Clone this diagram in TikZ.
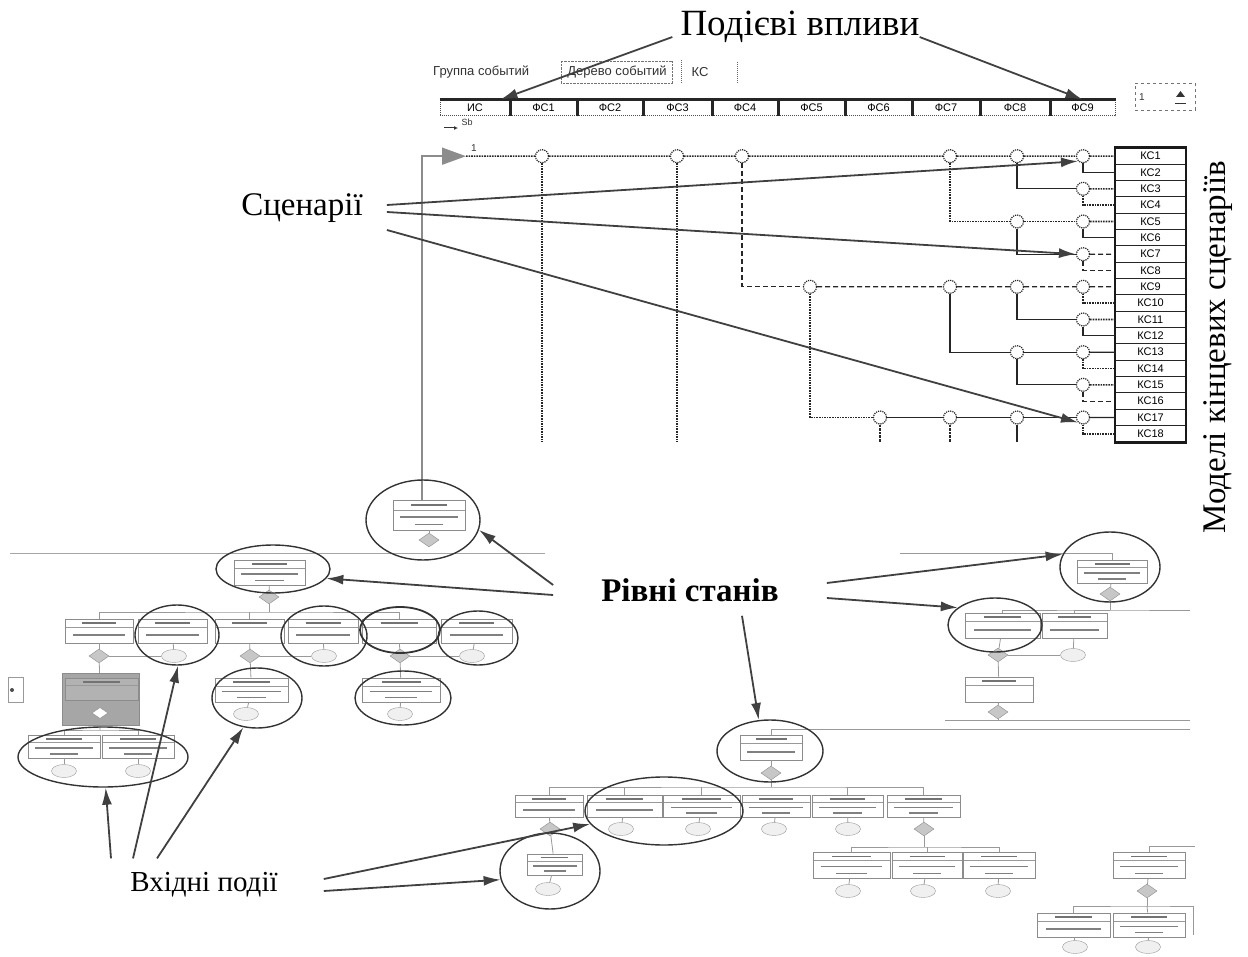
\documentclass[tikz,border=0pt]{standalone}
\usepackage{fontspec}
\setmainfont{Liberation Serif}
\newfontfamily\uifont{Liberation Sans}
\usetikzlibrary{arrows.meta,shapes.geometric,calc}

% inner look of a fault-tree box: header strip, separator, body lines
\newcommand\ftinner[1]{%
  \path (path picture bounding box.north west) coordinate (fa)
        (path picture bounding box.north east) coordinate (fb)
        (path picture bounding box.south west) coordinate (fc)
        (path picture bounding box.south east) coordinate (fd);
  \path ($(fa)!.17!(fc)$) coordinate (fh1) ($(fb)!.17!(fd)$) coordinate (fh2)
        ($(fa)!.34!(fc)$) coordinate (fs1) ($(fb)!.34!(fd)$) coordinate (fs2);
  \draw[black!40, line width=.7pt] (fs1) -- (fs2);
  \draw[black!55, line width=1.8pt] ($(fh1)!.25!(fh2)$) -- ($(fh1)!.75!(fh2)$);
  \ifcase#1\relax
  \or
    \path ($(fa)!.67!(fc)$) coordinate (ft1) ($(fb)!.67!(fd)$) coordinate (ft2);
    \draw[black!50, line width=1.8pt] ($(ft1)!.12!(ft2)$) -- ($(ft1)!.88!(ft2)$);
  \or
    \path ($(fa)!.56!(fc)$) coordinate (ft1) ($(fb)!.56!(fd)$) coordinate (ft2)
          ($(fa)!.82!(fc)$) coordinate (fu1) ($(fb)!.82!(fd)$) coordinate (fu2);
    \draw[black!50, line width=1.6pt] ($(ft1)!.1!(ft2)$) -- ($(ft1)!.9!(ft2)$);
    \draw[black!50, line width=1.6pt] ($(fu1)!.3!(fu2)$) -- ($(fu1)!.7!(fu2)$);
  \fi}

\begin{document}
\begin{tikzpicture}[x=1pt, y=-1pt,
  lbl/.style={font=\fontsize{33}{38}\selectfont, inner sep=0pt},
  ui/.style={font=\uifont\fontsize{13}{15}\selectfont, inner sep=0pt, text=black!80},
  arr/.style={draw=black!75, line width=1.8pt, -{Latex[length=17pt,width=10pt]}},
  ring/.style 2 args={ellipse, draw=black!80, line width=1.4pt, inner sep=0pt,
    minimum width=#1pt, minimum height=#2pt},
  ftbox/.style 2 args={draw=black!45, line width=.8pt, fill=white, inner sep=0pt,
    minimum width=#2pt, path picture={\ftinner{#1}}},
  gate/.style={diamond, draw=black!45, fill=black!22, minimum width=20pt,
    minimum height=14pt, inner sep=0pt},
  bev/.style={ellipse, draw=black!40, fill=black!6, minimum width=25pt,
    minimum height=13pt, inner sep=0pt},
  wire/.style={draw=black!40, line width=.8pt},
  etw/.style={draw=black!85, line width=1.6pt, densely dotted},
  etd/.style={draw=black!85, line width=1.3pt, dash pattern=on 5pt off 3pt},
  ets/.style={draw=black!85, line width=1.3pt},
  etn/.style={circle, draw=black!85, line width=1.2pt, densely dotted, fill=white,
    minimum size=13pt, inner sep=0pt},
  ksbox/.style={draw=black!85, line width=1pt, minimum width=70pt,
    minimum height=16.33pt, inner sep=0pt, font=\uifont\fontsize{11}{12}\selectfont},
  hcell/.style={draw=black!70, densely dotted, line width=1pt, minimum height=16pt,
    inner sep=0pt, font=\uifont\fontsize{11}{12}\selectfont}
]
\useasboundingbox (0,0) rectangle (1248,957);

% ---------------- event tree: tabs and header ----------------
\node[ui, anchor=west] (tgrp) at (433,72) {Группа событий};
\node[ui, draw=black!55, densely dotted, inner xsep=6pt, inner ysep=5pt] (ttree) at (617,72) {Дерево событий};
\node[ui] (tks) at (700,72) {КС};
\coordinate (tbar1a) at (681,60); \coordinate (tbar1b) at (681,84);
\coordinate (tbar2a) at (737,62); \coordinate (tbar2b) at (737,84);
\draw[black!60, densely dotted, line width=1pt] (tbar1a) -- (tbar1b);
\draw[black!60, densely dotted, line width=1pt] (tbar2a) -- (tbar2b);

\foreach \i/\a/\b/\t in {0/440/510/ИС, 1/510/577/ФС1, 2/577/643/ФС2, 3/643/712/ФС3,
    4/712/778/ФС4, 5/778/845/ФС5, 6/845/912/ФС6, 7/912/980/ФС7, 8/980/1050/ФС8, 9/1050/1115/ФС9}
  \node[hcell, minimum width={\b-\a}] (h\i) at ({(\a+\b)/2},108) {\t};
\draw[black!85, line width=2.6pt] (h0.north west) -- (h9.north east);
\foreach \i in {0,...,8}
  \draw[black!85, line width=2.4pt] (h\i.north east) -- (h\i.south east);

% spinner box
\node[draw=black!55, dashed, minimum width=60pt, minimum height=27pt, inner sep=0pt] (spin) at (1165,97) {};
\node[ui, font=\uifont\fontsize{10}{12}\selectfont] (spinv) at (1142,97) {1};
\fill[black!80] (1176,97) -- (1185,97) -- (1180.5,91) -- cycle;
\draw[black!80, line width=1pt] (1175,104) -- (1186,104);

% start marker
\coordinate (sba) at (444,128); \coordinate (sbb) at (458,128);
\draw[black!80, line width=1pt, -{Latex[length=4pt,width=4pt]}] (sba) -- (sbb);
\node[ui, font=\uifont\fontsize{9}{10}\selectfont] (sbt) at (467,122) {Sb};
\node[ui, font=\uifont\fontsize{10}{11}\selectfont] (one) at (474,148) {1};

% ---------------- event tree body ----------------
% end-state column
\foreach \r in {1,...,18}
  \node[ksbox] (ks\r) at (1150.5,{148+16.333*(\r-0.5)}) {КС\r};
\draw[black!90, line width=2.2pt] (ks1.north west) rectangle (ks18.south east);

\coordinate (st) at (466,156.2);
% branch points
\foreach \c/\x in {1/542, 2/677, 3/742, 6/950, 7/1017, 8/1083}
  \node[etn] (e\c r1) at (\x,156.2) {};
\node[etn] (e8r3)  at (1083,188.8) {};
\node[etn] (e7r5)  at (1017,221.5) {};
\node[etn] (e8r5)  at (1083,221.5) {};
\node[etn] (e8r7)  at (1083,254.2) {};
\node[etn] (e4r9)  at (810,286.8) {};
\node[etn] (e6r9)  at (950,286.8) {};
\node[etn] (e7r9)  at (1017,286.8) {};
\node[etn] (e8r9)  at (1083,286.8) {};
\node[etn] (e8r11) at (1083,319.5) {};
\node[etn] (e7r13) at (1017,352.2) {};
\node[etn] (e8r13) at (1083,352.2) {};
\node[etn] (e8r15) at (1083,384.8) {};
\node[etn] (e5r17) at (880,417.5) {};
\node[etn] (e6r17) at (950,417.5) {};
\node[etn] (e7r17) at (1017,417.5) {};
\node[etn] (e8r17) at (1083,417.5) {};
\coordinate (d1) at (542,442); \coordinate (d2) at (677,442);
\coordinate (d5) at (880,442); \coordinate (d6) at (950,442); \coordinate (d7) at (1017,442);

\draw[etw] (st) -- (e1r1) -- (e2r1) -- (e3r1) -- (e6r1) -- (e7r1) -- (e8r1) -- (ks1);
\draw[etw] (e1r1) -- (d1);
\draw[etw] (e2r1) -- (d2);
\draw[etd] (e3r1) |- (e4r9);
\draw[etd] (e4r9) -- (e6r9) -- (e7r9) -- (e8r9) -- (ks9);
\draw[etw] (e6r1) |- (e7r5);
\draw[etw] (e7r5) -- (e8r5);
\draw[ets] (e7r1) |- (e8r3);
\draw[ets] (e8r1) |- (ks2);
\draw[etw] (e8r3) -- (ks3);
\draw[etw] (e8r3) |- (ks4);
\draw[ets] (e7r5) |- (e8r7);
\draw[etw] (e8r5) -- (ks5);
\draw[ets] (e8r5) |- (ks6);
\draw[etd] (e8r7) -- (ks7);
\draw[etd] (e8r7) |- (ks8);
\draw[ets] (e6r9) |- (e7r13);
\draw[ets] (e7r13) -- (e8r13);
\draw[ets] (e7r9) |- (e8r11);
\draw[etw] (e8r9) |- (ks10);
\draw[etw] (e8r11) -- (ks11);
\draw[ets] (e8r11) |- (ks12);
\draw[ets] (e7r13) |- (e8r15);
\draw[ets] (e8r13) -- (ks13);
\draw[etw] (e8r13) |- (ks14);
\draw[etw] (e8r15) -- (ks15);
\draw[etd] (e8r15) |- (ks16);
\draw[etw] (e4r9) |- (e5r17);
\draw[ets] (e5r17) -- (e6r17) -- (e7r17) -- (e8r17);
\draw[ets] (e8r17) -- (ks17);
\draw[etw] (e8r17) |- (ks18);
\draw[black!85, line width=2.6pt, densely dotted] (e5r17) -- (d5);
\draw[black!85, line width=2.6pt, densely dotted] (e6r17) -- (d6);
\draw[ets] (e7r17) -- (d7);

% ---------------- fault trees ----------------
\coordinate (sepA) at (10,553); \coordinate (sepB) at (545,553);
\draw[black!35, line width=.9pt] (sepA) -- (sepB);

% left tree
\node[ftbox={2}{72}, minimum height=30pt] (b1) at (429,515) {};
\node[gate] (g1) at (429,540) {};
\draw[wire] (b1) -- (g1);
\draw[black!45, line width=1.6pt, -{Triangle[length=24pt,width=17pt]}] ([xshift=-7pt]b1.north) |- (st);

\node[ftbox={2}{71}, minimum height=25pt] (b2) at (269.5,572.5) {};
\node[gate] (g2) at (269,597) {};
\draw[wire] (b2) -- (g2);
\coordinate (j2) at (269,612);

\node[ftbox={1}{68}, minimum height=24pt] (b3) at (99,631) {};
\node[ftbox={1}{69}, minimum height=24pt] (b4) at (172.5,631) {};
\node[ftbox={0}{69}, minimum height=24pt] (b5) at (249.5,631) {};
\node[ftbox={1}{70}, minimum height=24pt] (b6) at (323,631) {};
\node[ftbox={0}{74}, minimum height=24pt] (b7) at (399,631) {};
\node[ftbox={1}{71}, minimum height=24pt] (b8) at (476.5,631) {};
\draw[wire] (g2) -- (j2);
\draw[wire] (b3) |- (j2) -| (b7);
\draw[wire] (b5) -- (b5 |- j2);
\node[gate] (g3) at (99,656) {};
\node[bev]  (o4) at (174,656) {};
\node[gate] (g5) at (250,656) {};
\node[bev]  (o6) at (324,656) {};
\node[gate] (g7) at (400,656) {};
\node[bev]  (o8) at (472,656) {};
\foreach \u/\v in {b3/g3, b4/o4, b5/g5, b6/o6, b7/g7, b8/o8, g3/o4, g5/o6, g7/o8}
  \draw[wire] (\u) -- (\v);

% shaded transfer block
\node[draw=black!45, fill=black!35, minimum width=77pt, minimum height=52pt, inner sep=0pt] (bs) at (100.5,699) {};
\node[ftbox={0}{73}, minimum height=22pt, fill=black!30] (bsi) at (101.5,689) {};
\node[gate, minimum width=16pt, minimum height=11pt, fill=white] (gs) at (100,713) {};
\draw[wire] (g3) -- (bs);
\coordinate (j9) at (100,730);
\node[ftbox={2}{72}, minimum height=23pt] (b9)  at (64,746.5) {};
\node[ftbox={2}{72}, minimum height=23pt] (b10) at (138,746.5) {};
\node[bev] (o9)  at (64,771) {};
\node[bev] (o10) at (138,771) {};
\draw[wire] (bs) -- (j9);
\draw[wire] (b9) |- (j9) -| (b10);
\draw[wire] (b9) -- (o9);
\draw[wire] (b10) -- (o10);

\node[ftbox={2}{73}, minimum height=24pt] (b11) at (251.5,690) {};
\node[bev] (o11) at (246,714) {};
\node[ftbox={2}{78}, minimum height=24pt] (b12) at (401,690) {};
\node[bev] (o12) at (400,714) {};
\foreach \u/\v in {g5/b11, b11/o11, g7/b12, b12/o12}
  \draw[wire] (\u) -- (\v);

\node[draw=black!40, minimum width=15pt, minimum height=25pt, inner sep=0pt] (sl) at (16,690) {};
\fill[black!70] (12,690) circle (2pt);

% right tree
\coordinate (rl1) at (900,553);
\node[ftbox={2}{70}, minimum height=23pt] (b13) at (1112,571.5) {};
\node[gate] (g13) at (1110,594) {};
\draw[wire] (b13) |- (rl1);
\draw[wire] (b13) -- (g13);
\coordinate (j13) at (1110,610); \coordinate (jr13) at (1190,610);
\node[ftbox={1}{75}, minimum height=25pt] (b14) at (1002.5,625.5) {};
\node[ftbox={1}{65}, minimum height=25pt] (b15) at (1074.5,625.5) {};
\draw[wire] (g13) -- (j13);
\draw[wire] (b14) |- (j13) -- (jr13);
\draw[wire] (j13) -| (b15);
\node[gate] (g14) at (998,655) {};
\node[bev]  (o15) at (1073,655) {};
\foreach \u/\v in {b14/g14, b15/o15, g14/o15}
  \draw[wire] (\u) -- (\v);
\node[ftbox={0}{68}, minimum height=25pt] (b16) at (999,689.5) {};
\node[gate] (g16) at (998,712) {};
\coordinate (jl16) at (945,720); \coordinate (jr16) at (1190,720);
\draw[wire] (g14) -- (b16);
\draw[wire] (b16) -- (g16);
\draw[wire] (g16) -- (g16 |- jl16);
\draw[wire] (jl16) -- (jr16);

% middle tree
\coordinate (jr17) at (1190,729);
\node[ftbox={1}{62}, minimum height=25pt] (b17) at (771,747.5) {};
\node[gate] (g17) at (771,773) {};
\draw[wire] (b17) |- (jr17);
\draw[wire] (b17) -- (g17);
\coordinate (j17) at (771,787);
\node[ftbox={1}{68}, minimum height=22pt] (b18) at (549,806) {};
\node[ftbox={1}{75}, minimum height=22pt] (b19) at (624.5,806) {};
\node[ftbox={2}{77}, minimum height=22pt] (b20) at (701.5,806) {};
\node[ftbox={2}{68}, minimum height=22pt] (b21) at (776,806) {};
\node[ftbox={2}{71}, minimum height=22pt] (b22) at (847.5,806) {};
\node[ftbox={2}{73}, minimum height=22pt] (b23) at (923.5,806) {};
\draw[wire] (g17) -- (j17);
\draw[wire] (b18) |- (j17) -| (b23);
\foreach \b in {b19,b20,b22}
  \draw[wire] (\b) -- (\b |- j17);
\node[gate] (g18) at (550,829) {};
\node[bev]  (o19) at (621,829) {};
\node[bev]  (o20) at (698,829) {};
\node[bev]  (o21) at (774,829) {};
\node[bev]  (o22) at (848,829) {};
\node[gate] (g23) at (924,829) {};
\foreach \u/\v in {b18/g18, b19/o19, b20/o20, b21/o21, b22/o22, b23/g23}
  \draw[wire] (\u) -- (\v);
\node[ftbox={2}{55}, minimum height=21pt] (b24) at (554.5,864.5) {};
\node[bev] (o24) at (548,889) {};
\draw[wire] (g18) -- (b24);
\draw[wire] (b24) -- (o24);

\coordinate (j23) at (924,847);
\node[ftbox={2}{77}, minimum height=26pt] (b25) at (851.5,865) {};
\node[ftbox={2}{70}, minimum height=26pt] (b26) at (927,865) {};
\node[ftbox={2}{72}, minimum height=26pt] (b27) at (999,865) {};
\draw[wire] (g23) -- (j23);
\draw[wire] (b25) |- (j23) -| (b27);
\draw[wire] (b26) -- (b26 |- j23);
\node[bev] (o25) at (848,891) {};
\node[bev] (o26) at (923,891) {};
\node[bev] (o27) at (998,891) {};
\foreach \u/\v in {b25/o25, b26/o26, b27/o27}
  \draw[wire] (\u) -- (\v);

% far right tree
\coordinate (jr28) at (1195,846);
\node[ftbox={2}{72}, minimum height=26pt] (b28) at (1149,865) {};
\node[gate] (g28) at (1147,891) {};
\draw[wire] (b28) |- (jr28);
\draw[wire] (b28) -- (g28);
\coordinate (j28) at (1147,906); \coordinate (jr29) at (1193,906); \coordinate (jr29b) at (1193,935);
\node[ftbox={1}{73}, minimum height=24pt] (b29) at (1073.5,925) {};
\node[ftbox={2}{72}, minimum height=24pt] (b30) at (1149,925) {};
\draw[wire] (g28) -- (j28);
\draw[wire] (b29) |- (j28) -- (jr29) -- (jr29b);
\draw[wire] (j28) -- (b30);
\node[bev] (o29) at (1075,947) {};
\node[bev] (o30) at (1148,947) {};
\draw[wire] (b29) -- (o29);
\draw[wire] (b30) -- (o30);

% ---------------- highlight rings ----------------
\node[ring={114}{80}] (r1) at (423,520) {};
\node[ring={114}{48}] (r2) at (273,569) {};
\node[ring={84}{60}]  (ra) at (177,635) {};
\node[ring={86}{60}]  (re) at (324,636) {};
\node[ring={80}{46}, line width=1.8pt]  (rf) at (400,630) {};
\node[ring={80}{54}]  (rg) at (478,638) {};
\node[ring={90}{60}]  (rb) at (257,698) {};
\node[ring={96}{54}]  (rh) at (403,698) {};
\node[ring={170}{60}] (r6) at (103,757) {};
\node[ring={100}{70}] (r3) at (1110,567) {};
\node[ring={94}{54}]  (r4) at (995,625) {};
\node[ring={106}{62}] (r5) at (770,751) {};
\node[ring={158}{68}] (rc) at (664,811) {};
\node[ring={100}{76}] (rd) at (550,871) {};

% ---------------- captions and pointers ----------------
\node[lbl, font=\fontsize{37}{42}\selectfont] (pv) at (800,27) {Подієві впливи};
\draw[arr] ([xshift=-8pt, yshift=6pt]pv.south west) -- ([xshift=-10pt]h0.north east);
\draw[arr] ([yshift=6pt]pv.south east) -- (h9.north);

\node[lbl, inner xsep=24pt] (sc) at (302,208) {Сценарії};
\draw[arr] ([yshift=3pt]sc.east) -- (e8r1.south west);
\draw[arr] ([yshift=-4pt]sc.east) -- (e8r7.west);
\draw[arr] ([yshift=-22pt]sc.east) -- (e8r17.south west);

\node[lbl, rotate=90] (mks) at (1218,347) {Моделі кінцевих сценаріїв};

\node[lbl, font=\bfseries\fontsize{33}{38}\selectfont, inner xsep=48pt, inner ysep=14pt] (lv) at (690,590) {Рівні станів};
\draw[arr] ([yshift=5pt]lv.west) -- (r1.-10);
\draw[arr] ([yshift=-5pt]lv.west) -- (r2.-10);
\draw[arr] ([yshift=7pt]lv.east) -- (r3.165);
\draw[arr] ([yshift=-8pt]lv.east) -- (r4.155);
\draw[arr] ([xshift=52pt]lv.south) -- (r5.110);

\node[lbl, font=\fontsize{29}{34}\selectfont, inner xsep=46pt, inner ysep=14pt] (vx) at (204,885) {Вхідні події};
\draw[arr] ([xshift=-93pt]vx.north) -- (r6.-85);
\draw[arr] ([xshift=-71pt]vx.north) -- (ra.-88);
\draw[arr] ([xshift=-47pt]vx.north) -- (rb.-115);
\draw[arr] ([yshift=6pt]vx.east) -- (rc.190);
\draw[arr] ([yshift=-6pt]vx.east) -- (rd.190);
\end{tikzpicture}
\end{document}
